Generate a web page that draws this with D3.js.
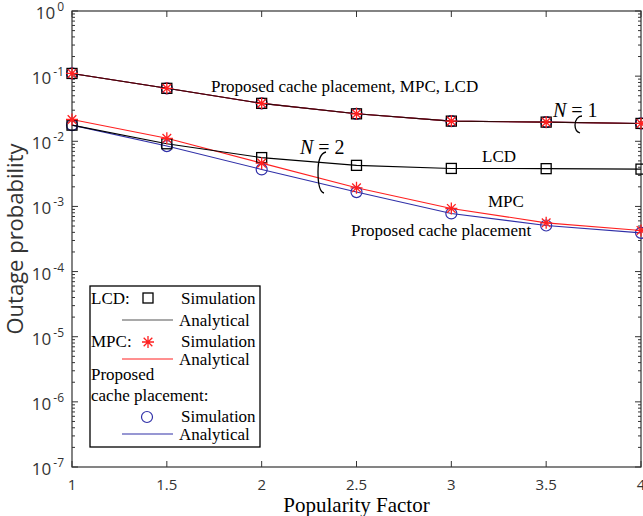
<!DOCTYPE html>
<html><head><meta charset="utf-8">
<script src="https://cdn.jsdelivr.net/npm/d3@7"></script>
<style>body{margin:0;background:#fff}svg{display:block}</style>
</head><body>
<script>
// ---- data ----
const popularity = [1, 1.5, 2, 2.5, 3, 3.5, 4];
const lcdN1  = [0.110, 0.065, 0.0382, 0.0264, 0.0204, 0.0197, 0.0188];
const mpcN1  = [0.110, 0.065, 0.0382, 0.0264, 0.0204, 0.0197, 0.0188];
const propN1 = [0.110, 0.065, 0.0382, 0.0264, 0.0204, 0.0197, 0.0188];
const lcdN2  = [0.0177, 0.00916, 0.00562, 0.00427, 0.00383, 0.0038, 0.00374];
const mpcN2  = [0.0216, 0.0111, 0.00462, 0.00193, 0.00093, 0.00056, 0.000428];
const propN2 = [0.0177, 0.00844, 0.0037, 0.00166, 0.00078, 0.00051, 0.000393];
const xTicks = [1, 1.5, 2, 2.5, 3, 3.5, 4];
const xTickLabels = ["1", "1.5", "2", "2.5", "3", "3.5", "4"];
const yExponents = [0, -1, -2, -3, -4, -5, -6, -7];

const W = 643, H = 516;
const L = 72, R = 641, T = 11, B = 467;
const svg = d3.select("body").append("svg").attr("width", W).attr("height", H);

const x = d3.scaleLinear().domain([1, 4]).range([L, R]);
const y = d3.scaleLog().domain([1e-7, 1]).range([B, T]);

const colLCD = "#000000", colMPC = "#ff2020", colProp = "#3030a8";
const sans = "'Open Sans', 'Liberation Sans', sans-serif";
const serif = "'Liberation Serif', 'Times New Roman', serif";

// ---- axes ticks ----
const g = svg.append("g");
const minor = [];
for (let e = -7; e < 0; e++) for (let m = 2; m <= 9; m++) minor.push(m * Math.pow(10, e));
minor.forEach(v => {
  g.append("line").attr("x1", L).attr("x2", L + 3).attr("y1", y(v)).attr("y2", y(v)).attr("stroke", "#333").attr("stroke-width", 1);
  g.append("line").attr("x1", R - 3).attr("x2", R).attr("y1", y(v)).attr("y2", y(v)).attr("stroke", "#333").attr("stroke-width", 1);
});
yExponents.forEach(e => {
  const v = Math.pow(10, e);
  g.append("line").attr("x1", L).attr("x2", L + 6).attr("y1", y(v)).attr("y2", y(v)).attr("stroke", "#333");
  g.append("line").attr("x1", R - 6).attr("x2", R).attr("y1", y(v)).attr("y2", y(v)).attr("stroke", "#333");
  const t = g.append("text").attr("x", L - 8).attr("y", y(v) + 8).attr("text-anchor", "end")
    .attr("font-family", sans).attr("font-size", 17).attr("fill", "#333");
  t.append("tspan").text("10");
  t.append("tspan").attr("font-size", 12).attr("dy", -8).attr("dx", 2).text(e === 0 ? "0" : "-" + (-e));
});
xTicks.forEach((v, i) => {
  g.append("line").attr("x1", x(v)).attr("x2", x(v)).attr("y1", B).attr("y2", B - 6).attr("stroke", "#333");
  g.append("line").attr("x1", x(v)).attr("x2", x(v)).attr("y1", T).attr("y2", T + 6).attr("stroke", "#333");
  g.append("text").attr("x", x(v)).attr("y", B + 23).attr("text-anchor", "middle")
    .attr("font-family", sans).attr("font-size", 15).attr("fill", "#333").text(xTickLabels[i]);
});
svg.append("rect").attr("x", L).attr("y", T).attr("width", R - L).attr("height", B - T)
  .attr("fill", "none").attr("stroke", "#333").attr("stroke-width", 1.2);

// axis labels
svg.append("text").attr("x", (L + R) / 2).attr("y", B + 45).attr("text-anchor", "middle")
  .attr("font-family", serif).attr("font-size", 21).attr("fill", "#000").text("Popularity Factor");
svg.append("text").attr("transform", `translate(23,${(T + B) / 2}) rotate(-90)`).attr("text-anchor", "middle")
  .attr("font-family", sans).attr("font-size", 22).attr("fill", "#333").text("Outage probability");

// ---- series ----
const line = d3.line().x((d, i) => x(popularity[i])).y(d => y(d));
const plot = svg.append("g");
function drawLine(data, col) {
  plot.append("path").attr("d", line(data)).attr("fill", "none").attr("stroke", col).attr("stroke-width", 1.1);
}
function circle(gg, cx, cy) {
  gg.append("circle").attr("cx", cx).attr("cy", cy).attr("r", 5.5).attr("fill", "none").attr("stroke", colProp).attr("stroke-width", 1.2);
}
function square(gg, cx, cy) {
  gg.append("rect").attr("x", cx - 5).attr("y", cy - 5).attr("width", 10).attr("height", 10).attr("fill", "none").attr("stroke", colLCD).attr("stroke-width", 1.3);
}
function star(gg, cx, cy) {
  const s = 6;
  const p = `M${cx - s},${cy}L${cx + s},${cy}M${cx},${cy - s}L${cx},${cy + s}M${cx - s * 0.72},${cy - s * 0.72}L${cx + s * 0.72},${cy + s * 0.72}M${cx - s * 0.72},${cy + s * 0.72}L${cx + s * 0.72},${cy - s * 0.72}`;
  gg.append("path").attr("d", p).attr("stroke", colMPC).attr("stroke-width", 1.3).attr("fill", "none");
}
// N = 2
drawLine(propN2, colProp);
drawLine(mpcN2, colMPC);
drawLine(lcdN2, colLCD);
propN2.forEach((d, i) => circle(plot, x(popularity[i]), y(d)));
lcdN2.forEach((d, i) => square(plot, x(popularity[i]), y(d)));
mpcN2.forEach((d, i) => star(plot, x(popularity[i]), y(d)));
// N = 1
drawLine(propN1, colProp);
drawLine(mpcN1, colMPC);
drawLine(lcdN1, "#300808");
propN1.forEach((d, i) => circle(plot, x(popularity[i]), y(d)));
lcdN1.forEach((d, i) => square(plot, x(popularity[i]), y(d)));
mpcN1.forEach((d, i) => star(plot, x(popularity[i]), y(d)));

// ---- annotations ----
function ann(txt, ax, ay, anchor) {
  svg.append("text").attr("x", ax).attr("y", ay).attr("text-anchor", anchor || "start")
    .attr("font-family", serif).attr("font-size", 17).attr("fill", "#000").text(txt);
}
ann("Proposed cache placement, MPC, LCD", 211, 92);
ann("LCD", 482, 162);
ann("MPC", 488, 207);
ann("Proposed cache placement", 351, 236);
function nLabel(n, ax, ay) {
  const t = svg.append("text").attr("x", ax).attr("y", ay).attr("font-family", serif).attr("font-size", 20).attr("fill", "#000");
  t.append("tspan").attr("font-style", "italic").text("N");
  t.append("tspan").text(" = " + n);
}
nLabel(1, 553, 117);
nLabel(2, 300, 154);
svg.append("path").attr("d", "M582,116 C578,116 575,120 575,125 C575,129 577,132 580,133")
  .attr("fill", "none").attr("stroke", "#000").attr("stroke-width", 1.3);
svg.append("path").attr("d", "M326,152 C321,153 318,160 318,172 C318,185 320,192 324,193")
  .attr("fill", "none").attr("stroke", "#000").attr("stroke-width", 1.3);

// ---- legend ----
const lg = svg.append("g");
lg.append("rect").attr("x", 90).attr("y", 286).attr("width", 170).attr("height", 161)
  .attr("fill", "#fff").attr("stroke", "#000").attr("stroke-width", 1.3);
function ltext(txt, lx, ly) {
  lg.append("text").attr("x", lx).attr("y", ly).attr("font-family", serif).attr("font-size", 17).attr("fill", "#000").text(txt);
}
ltext("LCD:", 91, 304); square(lg, 148, 298); ltext("Simulation", 181, 304);
lg.append("line").attr("x1", 122).attr("x2", 173).attr("y1", 320).attr("y2", 320).attr("stroke", "#555").attr("stroke-width", 1.2);
ltext("Analytical", 179, 326);
ltext("MPC:", 91, 347); star(lg, 148, 342); ltext("Simulation", 181, 347);
lg.append("line").attr("x1", 122).attr("x2", 173).attr("y1", 359).attr("y2", 359).attr("stroke", colMPC).attr("stroke-width", 1);
ltext("Analytical", 179, 365);
ltext("Proposed", 91, 380);
ltext("cache placement:", 91, 401);
circle(lg, 147, 417); ltext("Simulation", 181, 422);
lg.append("line").attr("x1", 122).attr("x2", 173).attr("y1", 434).attr("y2", 434).attr("stroke", colProp).attr("stroke-width", 1.2);
ltext("Analytical", 179, 440);
</script>
</body></html>
